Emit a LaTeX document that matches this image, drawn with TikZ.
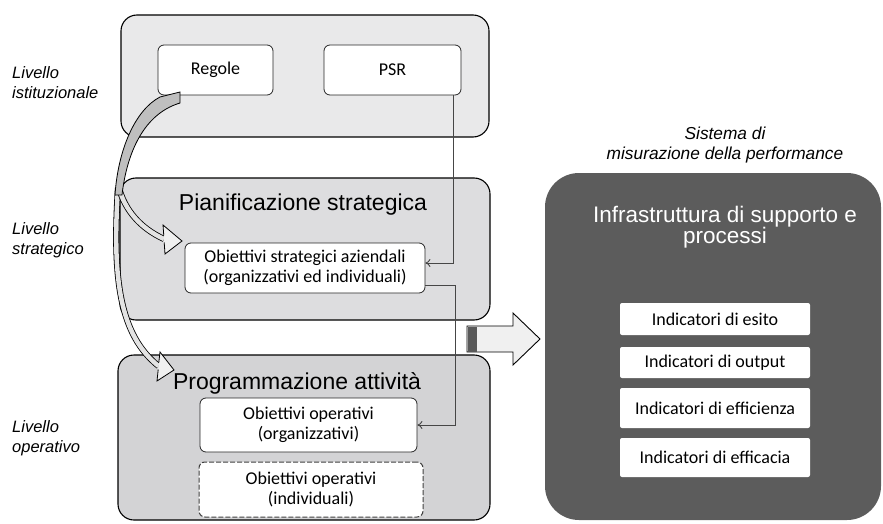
\documentclass[tikz,border=0pt]{standalone}
\usepackage{fontspec}
\usetikzlibrary{arrows.meta}
\setmainfont{Liberation Sans}
\newfontfamily\carl{Carlito}
\definecolor{instfill}{RGB}{233,233,234}
\definecolor{stratfill}{RGB}{221,221,223}
\definecolor{progfill}{RGB}{211,211,213}
\definecolor{darkpanel}{RGB}{92,92,92}
\definecolor{connc}{RGB}{70,70,70}
\begin{document}
\begin{tikzpicture}[x=1pt,y=-1pt,
  panel/.style={draw=black, line width=1.1pt, rounded corners=16pt, inner sep=0pt},
  wbox/.style={draw=black!85, line width=0.8pt, fill=white, rounded corners=6pt, align=center,
    font=\carl\fontsize{18}{20.5}\selectfont, inner sep=0pt},
  indbox/.style={fill=white, rounded corners=2pt, align=center, minimum width=190pt,
    font=\carl\fontsize{18}{20}\selectfont, inner sep=0pt},
  lvl/.style={anchor=west, align=left, inner sep=0pt, font=\itshape\fontsize{16.5}{20}\selectfont},
  ttl/.style={font=\fontsize{23}{26}\selectfont},
  conn/.style={draw=connc, line width=0.9pt, -{To[length=5pt,width=8pt]}},
  dbl/.style={draw=black, line width=0.8pt, double=gray!22, double distance=4.5pt},
  head/.style={draw=black, line width=0.8pt, fill=gray!12, line join=miter}
]
\useasboundingbox (0,0) rectangle (883,524);

% panels
\node[panel, fill=instfill, minimum width=368pt, minimum height=122pt] (inst) at (305,76) {};
\node[panel, fill=stratfill, minimum width=370pt, minimum height=142pt] (strat) at (305,249) {};
\node[panel, fill=progfill, minimum width=372pt, minimum height=165pt] (prog) at (304,437.5) {};
\node[panel, draw=none, fill=darkpanel, rounded corners=34pt, minimum width=336pt, minimum height=347pt] (misura) at (713,346.5) {};

% inner boxes
\node[wbox, minimum width=115pt, minimum height=50pt] (regole) at (215.5,70) {Regole};
\node[wbox, minimum width=137pt, minimum height=50pt] (psr) at (392.5,70) {PSR};
\node[wbox, minimum width=240pt, minimum height=50pt] (obstrat) at (305,268) {Obiettivi strategici aziendali\\(organizzativi ed individuali)};
\node[wbox, minimum width=217pt, minimum height=54pt] (oporg) at (308.5,425) {Obiettivi operativi\\(organizzativi)};
\node[wbox, draw=black!75, line width=1pt, dash pattern=on 5pt off 2pt, minimum width=224pt, minimum height=55pt] (opind) at (311,489.5) {Obiettivi operativi\\(individuali)};

% titles
\node[ttl] (tstrat) at (303,205) {Pianificazione strategica};
\node[ttl] (tprog) at (297,383) {Programmazione attività};
\node[text=white, align=center, font=\fontsize{22.5}{21}\selectfont] (tinfra) at (725,227) {Infrastruttura di supporto e\\processi};

% indicators
\node[indbox, minimum height=32pt] (esito) at (715,319) {Indicatori di esito};
\node[indbox, minimum height=31pt] (output) at (715,362.5) {Indicatori di output};
\node[indbox, minimum height=40pt] (effic) at (715,408) {Indicatori di efficienza};
\node[indbox, minimum height=39pt] (effica) at (715,457.5) {Indicatori di efficacia};

% level labels
\node[lvl] (l1) at (12,83) {Livello\\istituzionale};
\node[lvl] (l2) at (12,240) {Livello\\strategico};
\node[lvl] (l3) at (12,438) {Livello\\operativo};
\node[align=center, font=\itshape\fontsize{17.3}{20}\selectfont] (sist) at (725,145) {Sistema di\\misurazione della performance};

% thin connectors
\draw[conn] ([xshift=-8pt]psr.south east) |- ([yshift=5pt]obstrat.east);
\draw[conn] ([yshift=-17pt]obstrat.east) -- ++(30,0) |- (oporg.east);

% curved branch arrows
\draw[dbl] (118,188) .. controls (112,280) and (120,335) .. (158.5,366);
\draw[head] (158.8,362.5) -- (160,352) -- (174,370) -- (157,381) -- (158.2,369.5);
\draw[dbl] (119,188) .. controls (125,210) and (140,228) .. (164,239);
\draw[head] (163.8,235.5) -- (163,225) -- (182,241) -- (165,254) -- (164.2,242.5);

% stem
\draw[line width=0.8pt, fill=gray!50, line join=miter]
  (160,97) .. controls (135,110) and (118,150) .. (115,195)
  -- (122,195) .. controls (126,160) and (140,115) .. (180,103) -- (180,92) -- cycle;

% block arrow
\coordinate (ba) at (467,339);
\draw[line width=0.9pt, fill=gray!12, line join=miter]
  (467,326) -- (513,326) -- (513,313) -- (540,339) -- (513,365) -- (513,352) -- (467,352) -- cycle;
\fill[gray!70!black] (468,326.5) rectangle (477,351.5);
\end{tikzpicture}
\end{document}
